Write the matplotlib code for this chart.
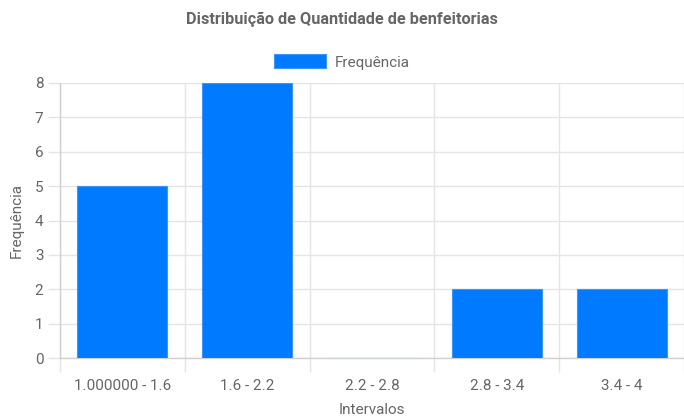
import matplotlib.pyplot as plt
import numpy as np

# Data
intervalos = ["1.000000 - 1.6", "1.6 - 2.2", "2.2 - 2.8", "2.8 - 3.4", "3.4 - 4"]
frequencia = [5, 8, 0, 2, 2]

plt.rcParams["font.family"] = ["Roboto", "DejaVu Sans"]
txt = "#666666"
grid = "#e5e5e5"
fs = 11

fig = plt.figure(figsize=(6.84, 4.18), dpi=100)
ax = fig.add_axes([60 / 684, 60 / 418, 624 / 684, 275 / 418])

x = np.arange(len(intervalos))
ax.bar(x, frequencia, width=0.72, color="#007bff", edgecolor="#3d95f5",
       linewidth=0.8, label="Frequência", zorder=3)

ax.set_xlim(-0.5, len(intervalos) - 0.5)
ax.set_ylim(0, 8)
ax.set_yticks(range(0, 9))
ax.set_xticks(x)
ax.set_xticklabels(intervalos)

# category grid lines (between bars), like Chart.js
ax.set_xticks(np.arange(-0.5, len(intervalos) + 0.5, 1), minor=True)
ax.grid(True, which="minor", axis="x", color=grid, linewidth=1, zorder=0)
ax.grid(True, which="major", axis="y", color=grid, linewidth=1, zorder=0)
ax.tick_params(axis="x", which="major", length=0, pad=15, labelsize=fs, labelcolor=txt)
ax.tick_params(axis="x", which="minor", length=10, color=grid, width=1)
ax.tick_params(axis="y", length=9, color=grid, width=1, pad=3, labelsize=fs, labelcolor=txt)

for side in ["top", "right"]:
    ax.spines[side].set_visible(False)
for side in ["left", "bottom"]:
    ax.spines[side].set_color("#d0d0d0")
    ax.spines[side].set_linewidth(1)

ax.set_xlabel("Intervalos", color=txt, fontsize=fs, labelpad=7)
ax.set_ylabel("Frequência", color=txt, fontsize=fs, labelpad=8)

fig.suptitle("Distribuição de Quantidade de benfeitorias", x=0.5, y=0.972,
             fontsize=11.7, fontweight="bold", color=txt)

leg = fig.legend(loc="center", bbox_to_anchor=(0.5, 1 - 62 / 418), frameon=False,
                 handlelength=3.4, handleheight=1.0, handletextpad=0.6,
                 fontsize=fs, labelcolor=txt)

fig.savefig("out.png", dpi=100)
